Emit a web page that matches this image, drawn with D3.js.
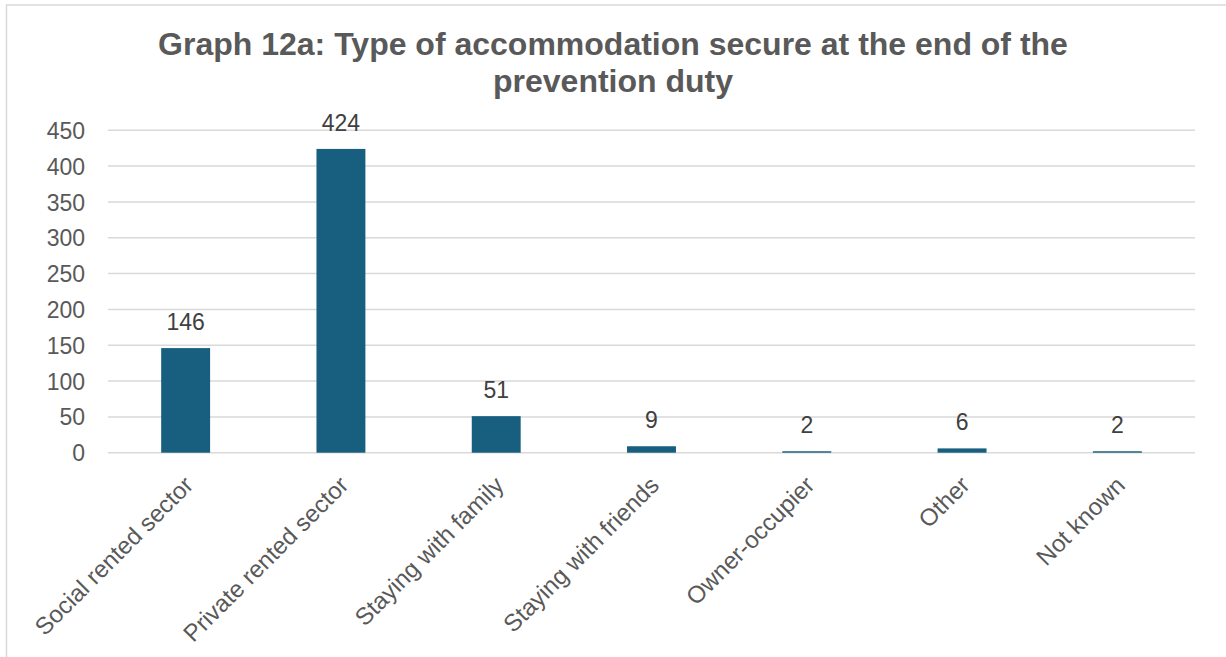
<!DOCTYPE html>
<html>
<head>
<meta charset="utf-8">
<script src="https://cdn.jsdelivr.net/npm/d3@7"></script>
<style>
  html, body { margin: 0; padding: 0; background: #fff; }
  svg { display: block; font-family: "Liberation Sans", Arial, sans-serif; }
</style>
</head>
<body>
<svg id="chart" width="1226" height="657"></svg>
<script>
// Accommodation secured at the end of the prevention duty
const categories = [
  "Social rented sector",
  "Private rented sector",
  "Staying with family",
  "Staying with friends",
  "Owner-occupier",
  "Other",
  "Not known"
];
const values = [146, 424, 51, 9, 2, 6, 2];
const yTicks = [0, 50, 100, 150, 200, 250, 300, 350, 400, 450];
const titleLines = [
  "Graph 12a: Type of accommodation secure at the end of the",
  "prevention duty"
];

const svg = d3.select("#chart");
const W = 1226, H = 657;
const margin = { left: 108, right: 31, top: 130.3, bottom: 204.3 };

// outer chart frame (runs past the right and bottom edges)
svg.append("rect")
  .attr("x", 6.5).attr("y", 5)
  .attr("width", W + 10).attr("height", H)
  .attr("fill", "#fff").attr("stroke", "#d9d9d9").attr("stroke-width", 1.5);

// title
svg.append("g").selectAll("text")
  .data(titleLines)
  .join("text")
  .attr("x", 613)
  .attr("y", (d, i) => 55 + i * 37)
  .attr("text-anchor", "middle")
  .attr("font-size", 32)
  .attr("font-weight", "bold")
  .attr("fill", "#595959")
  .text(d => d);

const x = d3.scaleBand()
  .domain(categories)
  .range([margin.left, W - margin.right])
  .paddingInner(0.685)
  .paddingOuter(0.3425);

const y = d3.scaleLinear()
  .domain([0, 450])
  .range([H - margin.bottom, margin.top]);

// gridlines
svg.append("g")
  .selectAll("line")
  .data(yTicks)
  .join("line")
  .attr("x1", margin.left)
  .attr("x2", W - margin.right)
  .attr("y1", d => y(d))
  .attr("y2", d => y(d))
  .attr("stroke", "#d9d9d9")
  .attr("stroke-width", 1.5);

// y axis labels
const yAxis = d3.axisLeft(y).tickValues(yTicks).tickSize(0).tickPadding(23);
const yg = svg.append("g")
  .attr("transform", `translate(${margin.left},0)`)
  .call(yAxis);
yg.select(".domain").remove();
yg.selectAll("text")
  .attr("font-size", 23)
  .attr("font-family", "Liberation Sans, Arial, sans-serif")
  .attr("fill", "#595959")
  .attr("dy", "0.35em");

// bars
svg.append("g")
  .selectAll("rect")
  .data(values)
  .join("rect")
  .attr("x", (d, i) => x(categories[i]))
  .attr("width", x.bandwidth())
  .attr("y", d => y(d))
  .attr("height", d => y(0) - y(d))
  .attr("fill", "#175e7f");

// value labels
svg.append("g")
  .selectAll("text")
  .data(values)
  .join("text")
  .attr("x", (d, i) => x(categories[i]) + x.bandwidth() / 2)
  .attr("y", d => y(d) - 18)
  .attr("text-anchor", "middle")
  .attr("font-size", 23)
  .attr("fill", "#404040")
  .text(d => d);

// category labels, rotated
const xAxis = d3.axisBottom(x).tickSize(0).tickPadding(0);
const xg = svg.append("g")
  .attr("transform", `translate(0,${y(0)})`)
  .call(xAxis);
xg.select(".domain").remove();
xg.selectAll("text")
  .attr("font-size", 24)
  .attr("font-family", "Liberation Sans, Arial, sans-serif")
  .attr("fill", "#595959")
  .attr("text-anchor", "end")
  .attr("dy", 0)
  .attr("transform", "translate(9,34) rotate(-45)");
</script>
</body>
</html>
